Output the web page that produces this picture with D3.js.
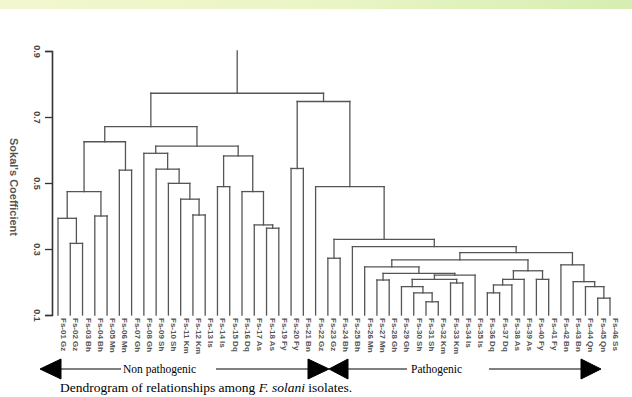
<!DOCTYPE html>
<html>
<head>
<meta charset="utf-8">
<script src="https://cdn.jsdelivr.net/npm/d3@7"></script>
<style>
  body { margin: 0; background: #fff; }
  svg { display: block; }
</style>
</head>
<body>
<div id="chart"></div>
<script>
// isolate codes under each leaf (left to right)
const leafLabels = [
  'Fs-01 Gz', 'Fs-02 Gz', 'Fs-03 Bh', 'Fs-04 Bh', 'Fs-05 Mn', 'Fs-06 Mn', 'Fs-07 Gh',
  'Fs-08 Gh', 'Fs-09 Sh', 'Fs-10 Sh', 'Fs-11 Km', 'Fs-12 Km', 'Fs-13 Is', 'Fs-14 Is',
  'Fs-15 Dq', 'Fs-16 Dq', 'Fs-17 As', 'Fs-18 As', 'Fs-19 Fy', 'Fs-20 Fy', 'Fs-21 Bn',
  'Fs-22 Gz', 'Fs-23 Gz', 'Fs-24 Bh', 'Fs-25 Bh', 'Fs-26 Mn', 'Fs-27 Mn', 'Fs-28 Gh',
  'Fs-29 Gh', 'Fs-30 Sh', 'Fs-31 Sh', 'Fs-32 Km', 'Fs-33 Km', 'Fs-34 Is', 'Fs-35 Is',
  'Fs-36 Dq', 'Fs-37 Dq', 'Fs-38 As', 'Fs-39 As', 'Fs-40 Fy', 'Fs-41 Fy', 'Fs-42 Bn',
  'Fs-43 Bn', 'Fs-44 Qn', 'Fs-45 Qn', 'Fs-46 Ss'
];

// merges: [left, right, coefficient]; Lk = leaf k, Nk = merge k
const merges = [
  ['L2', 'L3', 0.317], ['L1', 'N1', 0.393], ['L4', 'L5', 0.400], ['N2', 'N3', 0.474],
  ['L6', 'L7', 0.539], ['N4', 'N5', 0.625], ['L12', 'L13', 0.403], ['L11', 'N7', 0.451],
  ['L10', 'N8', 0.499], ['L9', 'N9', 0.542], ['L8', 'N10', 0.590], ['L14', 'L15', 0.489],
  ['L18', 'L19', 0.363], ['L17', 'N13', 0.373], ['L16', 'N14', 0.474], ['N12', 'N15', 0.582],
  ['N11', 'N16', 0.612], ['N6', 'N17', 0.671], ['L20', 'L21', 0.544],
  ['L23', 'L24', 0.272], ['L27', 'L28', 0.206], ['L31', 'L32', 0.140], ['L30', 'N22', 0.167],
  ['L29', 'N23', 0.186], ['L33', 'L34', 0.197], ['N24', 'N25', 0.208], ['N26', 'L35', 0.221],
  ['N21', 'N27', 0.226], ['L26', 'N28', 0.246], ['L36', 'L37', 0.167], ['N30', 'L38', 0.191],
  ['N31', 'L39', 0.208], ['L40', 'L41', 0.208], ['N32', 'N33', 0.234], ['N29', 'N34', 0.267],
  ['L45', 'L46', 0.151], ['L44', 'N36', 0.186], ['L43', 'N37', 0.201], ['L42', 'N38', 0.252],
  ['N35', 'N39', 0.289], ['L25', 'N40', 0.307], ['N20', 'N41', 0.329], ['L22', 'N42', 0.489],
  ['N19', 'N43', 0.747], ['N18', 'N44', 0.772]
];

const yTicks = [0.1, 0.3, 0.5, 0.7, 0.9];
const yTitle = "Sokal's Coefficient";
const groups = ['Non pathogenic', 'Pathogenic'];

const width = 632;
const height = 397;

const svg = d3.select('#chart')
  .append('svg')
    .attr('width', width)
    .attr('height', height);

// scanned page strip on top
const grad = svg.append('defs').append('linearGradient').attr('id', 'strip');
grad.append('stop').attr('offset', '0%').attr('stop-color', '#f3f7cf');
grad.append('stop').attr('offset', '50%').attr('stop-color', '#eaf5c6');
grad.append('stop').attr('offset', '100%').attr('stop-color', '#d6eeb2');
svg.append('rect')
  .attr('x', 0).attr('y', 0)
  .attr('width', width).attr('height', 9)
  .attr('fill', 'url(#strip)');

const x = d3.scalePoint()
  .domain(leafLabels)
  .range([58, 610]);

const y = d3.scaleLinear()
  .domain([0.1, 0.9])
  .range([315, 51]);

// axis
const yAxis = svg.append('g')
  .attr('transform', 'translate(52,0)')
  .call(d3.axisLeft(y).tickValues(yTicks).tickSize(7).tickFormat(d3.format('.1f')));
yAxis.select('.domain').attr('stroke', '#333').attr('stroke-width', 1.6);
yAxis.selectAll('.tick line').attr('stroke', '#333').attr('stroke-width', 1.3);
yAxis.selectAll('.tick text')
  .attr('font-family', 'Liberation Sans, Arial, sans-serif')
  .attr('font-size', 9)
  .attr('font-weight', 'bold')
  .attr('fill', '#444')
  .attr('x', 0).attr('dy', 0)
  .attr('text-anchor', 'middle')
  .attr('transform', 'translate(-18,0) rotate(90)');

svg.append('text')
  .attr('transform', `translate(10,${y(0.5) + 4}) rotate(90)`)
  .attr('text-anchor', 'middle')
  .attr('font-family', 'Liberation Sans, Arial, sans-serif')
  .attr('font-size', 11)
  .attr('font-weight', 'bold')
  .attr('fill', '#555')
  .text(yTitle);

// build tree positions
const pos = {};
leafLabels.forEach((l, i) => {
  pos['L' + (i + 1)] = { x: x(l), h: 0.1 };
});
merges.forEach((m, i) => {
  const a = pos[m[0]];
  const b = pos[m[1]];
  pos['N' + (i + 1)] = { x: (a.x + b.x) / 2, h: m[2], a, b };
});

const segs = [];
merges.forEach((m, i) => {
  const n = pos['N' + (i + 1)];
  segs.push([n.a.x, n.h, n.b.x, n.h]);
  segs.push([n.a.x, n.h, n.a.x, n.a.h]);
  segs.push([n.b.x, n.h, n.b.x, n.b.h]);
});
const root = pos['N' + merges.length];
segs.push([root.x, root.h, root.x, 0.9]);

svg.append('g')
  .selectAll('line')
  .data(segs)
  .join('line')
    .attr('x1', d => d[0])
    .attr('y1', d => y(d[1]))
    .attr('x2', d => d[2])
    .attr('y2', d => y(d[3]))
    .attr('stroke', '#555')
    .attr('stroke-width', 1.3)
    .attr('stroke-linecap', 'square');

// leaf labels
svg.append('g')
  .selectAll('text')
  .data(leafLabels)
  .join('text')
    .attr('transform', d => `translate(${x(d) + 3},318) rotate(90)`)
    .attr('font-family', 'Liberation Sans, Arial, sans-serif')
    .attr('font-size', 8)
    .attr('font-weight', 'bold')
    .attr('fill', '#555')
    .text(d => d);

// group arrows
const ay = 369;
const arrows = svg.append('g').attr('fill', '#000').attr('stroke', '#000');
const tri = (pts) => arrows.append('polygon').attr('points', pts.map(p => p.join(',')).join(' '));
tri([[40, ay], [61, ay - 10], [61, ay + 10]]);
tri([[329, ay], [308, ay - 10], [308, ay + 10]]);
tri([[329, ay], [348, ay - 10], [348, ay + 10]]);
tri([[601, ay], [581, ay - 10], [581, ay + 10]]);
[[61, 121], [216, 310], [348, 407], [489, 581]].forEach(s => {
  arrows.append('line')
    .attr('x1', s[0]).attr('x2', s[1])
    .attr('y1', ay).attr('y2', ay)
    .attr('stroke-width', 1);
});

svg.append('text')
  .attr('x', 123).attr('y', ay + 4)
  .attr('font-family', 'Liberation Serif, Times New Roman, serif')
  .attr('font-size', 11.5)
  .text(groups[0]);
svg.append('text')
  .attr('x', 411).attr('y', ay + 4)
  .attr('font-family', 'Liberation Serif, Times New Roman, serif')
  .attr('font-size', 11.5)
  .text(groups[1]);

// caption
const cap = svg.append('text')
  .attr('x', 60).attr('y', 392)
  .attr('font-family', 'Liberation Serif, Times New Roman, serif')
  .attr('font-size', 13.5);
cap.append('tspan').text('Dendrogram of relationships among ');
cap.append('tspan').attr('font-style', 'italic').text('F. solani');
cap.append('tspan').text(' isolates.');
</script>
</body>
</html>
